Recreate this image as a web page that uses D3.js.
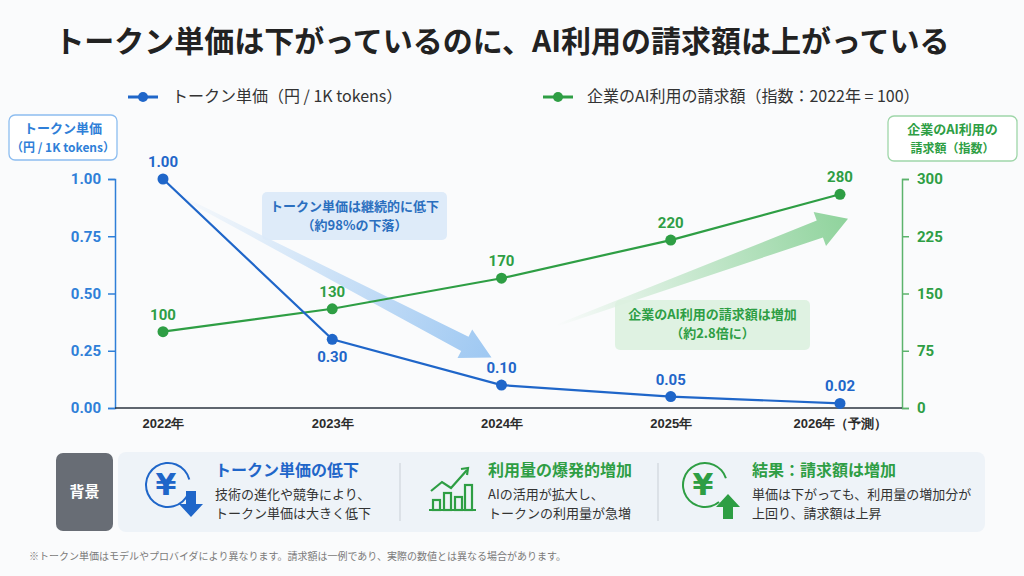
<!DOCTYPE html>
<html>
<head>
<meta charset="utf-8">
<script src="https://cdn.jsdelivr.net/npm/d3@7"></script>
<style>
  html, body { margin: 0; padding: 0; background: #fafbfc; }
  svg { display: block; font-family: "Noto Sans CJK JP", "Noto Sans", sans-serif; }
</style>
</head>
<body>
<div id="chart"></div>
<script>
// Token price falls, AI billing rises (dual axis line chart)

const years = ["2022年", "2023年", "2024年", "2025年", "2026年（予測）"];
const tokenPrice = [1.00, 0.30, 0.10, 0.05, 0.02];
const billingIndex = [100, 130, 170, 220, 280];
const leftTicks = [0, 0.25, 0.5, 0.75, 1];
const rightTicks = [0, 75, 150, 225, 300];

const WIDTH = 1024;
const HEIGHT = 576;
const BLUE = "#1f66c9";
const BLUE_TXT = "#2f7fd8";
const GREEN = "#2e9e44";
const DARK = "#222";

const svg = d3.select("#chart").append("svg")
  .attr("width", WIDTH)
  .attr("height", HEIGHT)
  .attr("viewBox", `0 0 ${WIDTH} ${HEIGHT}`);

svg.append("rect").attr("width", WIDTH).attr("height", HEIGHT).attr("fill", "#fafbfc");

const defs = svg.append("defs");

// Title
svg.append("text")
  .attr("x", 502).attr("y", 52)
  .attr("text-anchor", "middle")
  .attr("font-size", 30).attr("font-weight", 700)
  .attr("fill", DARK)
  .text("トークン単価は下がっているのに、AI利用の請求額は上がっている");

// Legend
function legendItem(x, color, label) {
  const g = svg.append("g").attr("transform", `translate(${x},97)`);
  g.append("line").attr("x1", 0).attr("x2", 30).attr("stroke", color).attr("stroke-width", 3);
  g.append("circle").attr("cx", 15).attr("r", 5).attr("fill", color);
  g.append("text").attr("x", 44).attr("y", 1).attr("dominant-baseline", "middle")
    .attr("font-size", 16).attr("fill", "#333").text(label);
}
legendItem(128, BLUE, "トークン単価（円 / 1K tokens）");
legendItem(543, GREEN, "企業のAI利用の請求額（指数：2022年 = 100）");

// Scales
const x = d3.scalePoint().domain(years).range([163, 840]);
const yL = d3.scaleLinear().domain([0, 1]).range([408, 179]);
const yR = d3.scaleLinear().domain([0, 300]).range([408, 179]);

// Axis title boxes
function axisBox(x0, y0, w, h, stroke, color, lines) {
  const g = svg.append("g");
  g.append("rect").attr("x", x0).attr("y", y0).attr("width", w).attr("height", h)
    .attr("rx", 6).attr("fill", "#fff").attr("stroke", stroke).attr("stroke-width", 1.3);
  lines.forEach((t, i) => {
    g.append("text").attr("x", x0 + w / 2).attr("y", y0 + 18 + i * 19)
      .attr("text-anchor", "middle").attr("font-size", i === 0 ? 13 : 12)
      .attr("font-weight", 700).attr("fill", color).text(t);
  });
}
axisBox(9, 115, 108, 45, "#8dbdf0", BLUE_TXT, ["トークン単価", "（円 / 1K tokens）"]);
axisBox(888, 116, 129, 45, "#9fd6a9", GREEN, ["企業のAI利用の", "請求額（指数）"]);

// Left axis
const axL = svg.append("g").attr("transform", "translate(115,0)")
  .call(d3.axisLeft(yL).tickValues(leftTicks).tickFormat(d3.format(".2f")).tickSize(7).tickPadding(7));
axL.selectAll("path, line").attr("stroke", BLUE_TXT).attr("stroke-width", 1.5);
axL.selectAll("text").attr("fill", BLUE_TXT).attr("font-size", 15).attr("font-weight", 700)
  .attr("font-family", "Roboto, 'Noto Sans', sans-serif");

// Right axis
const axR = svg.append("g").attr("transform", "translate(902,0)")
  .call(d3.axisRight(yR).tickValues(rightTicks).tickSize(7).tickPadding(8));
axR.selectAll("path, line").attr("stroke", "#5cb36c").attr("stroke-width", 1.5);
axR.selectAll("text").attr("fill", GREEN).attr("font-size", 15).attr("font-weight", 700)
  .attr("font-family", "Roboto, 'Noto Sans', sans-serif");

// X axis
svg.append("line").attr("x1", 115).attr("x2", 902).attr("y1", 408).attr("y2", 408)
  .attr("stroke", "#2b3440").attr("stroke-width", 1.5);
const axX = svg.append("g").attr("transform", "translate(0,408)")
  .call(d3.axisBottom(x).tickSize(0).tickPadding(11));
axX.select(".domain").remove();
axX.selectAll("text").attr("fill", "#2b2b2b").attr("font-size", 13).attr("font-weight", 700);

// Gradient arrows
function gradArrow(id, x0, y0, x1, y1, c, wTail, wBody, wHead, lHead) {
  const len = Math.hypot(x1 - x0, y1 - y0);
  const ang = Math.atan2(y1 - y0, x1 - x0) * 180 / Math.PI;
  const grad = defs.append("linearGradient").attr("id", id)
    .attr("x1", 0).attr("x2", 1).attr("y1", 0).attr("y2", 0);
  grad.append("stop").attr("offset", "0%").attr("stop-color", c).attr("stop-opacity", 0);
  grad.append("stop").attr("offset", "100%").attr("stop-color", c).attr("stop-opacity", 1);
  const b = len - lHead;
  const pts = [[0, -wTail / 2], [b, -wBody / 2], [b, -wHead / 2], [len, 0],
    [b, wHead / 2], [b, wBody / 2], [0, wTail / 2]];
  svg.append("path")
    .attr("d", d3.line()(pts) + "Z")
    .attr("fill", `url(#${id})`)
    .attr("transform", `translate(${x0},${y0}) rotate(${ang})`);
}
gradArrow("gBlue", x(years[0]) + 10, yL(0.94), x(years[2]) - 10, yL(0.22), "#9ec8f2", 2, 16, 32, 30);
gradArrow("gGreen", x(years[2]) + 55, yR(108), x(years[4]) + 8, yR(248), "#8fd39c", 2, 18, 36, 30);

// Annotation boxes
function noteBox(x0, y0, w, h, fill, color, lines) {
  const g = svg.append("g");
  g.append("rect").attr("x", x0).attr("y", y0).attr("width", w).attr("height", h)
    .attr("rx", 5).attr("fill", fill).attr("opacity", 0.92);
  lines.forEach((t, i) => {
    g.append("text").attr("x", x0 + w / 2).attr("y", y0 + 19 + i * 19)
      .attr("text-anchor", "middle").attr("font-size", 13).attr("font-weight", 700)
      .attr("fill", color).text(t);
  });
}
noteBox(262, 192, 185, 48, "#dbe9f8", "#2b6fbf", ["トークン単価は継続的に低下", "（約98%の下落）"]);
noteBox(615, 300, 195, 50, "#dcf1e0", GREEN, ["企業のAI利用の請求額は増加", "（約2.8倍に）"]);

// Lines
const lineL = d3.line().x((d, i) => x(years[i])).y(d => yL(d));
const lineR = d3.line().x((d, i) => x(years[i])).y(d => yR(d));

svg.append("path").datum(billingIndex).attr("d", lineR)
  .attr("fill", "none").attr("stroke", GREEN).attr("stroke-width", 2.2);
svg.append("path").datum(tokenPrice).attr("d", lineL)
  .attr("fill", "none").attr("stroke", BLUE).attr("stroke-width", 2.2);

svg.selectAll("circle.g").data(billingIndex).enter().append("circle")
  .attr("class", "g").attr("cx", (d, i) => x(years[i])).attr("cy", d => yR(d))
  .attr("r", 5.5).attr("fill", GREEN);
svg.selectAll("circle.b").data(tokenPrice).enter().append("circle")
  .attr("class", "b").attr("cx", (d, i) => x(years[i])).attr("cy", d => yL(d))
  .attr("r", 5.5).attr("fill", BLUE);

// Value labels
const labelFont = "Roboto, 'Noto Sans', sans-serif";
svg.selectAll("text.gl").data(billingIndex).enter().append("text")
  .attr("class", "gl").attr("x", (d, i) => x(years[i])).attr("y", d => yR(d) - 12)
  .attr("text-anchor", "middle").attr("font-size", 15).attr("font-weight", 700)
  .attr("font-family", labelFont).attr("fill", GREEN).text(d => d);
svg.selectAll("text.bl").data(tokenPrice).enter().append("text")
  .attr("class", "bl").attr("x", (d, i) => x(years[i]))
  .attr("y", (d, i) => i === 1 ? yL(d) + 23 : yL(d) - 12)
  .attr("text-anchor", "middle").attr("font-size", 15).attr("font-weight", 700)
  .attr("font-family", labelFont).attr("fill", BLUE).text(d => d.toFixed(2));

// Bottom background panel
svg.append("rect").attr("x", 56).attr("y", 453).attr("width", 57).attr("height", 78)
  .attr("rx", 7).attr("fill", "#686d75");
svg.append("text").attr("x", 84.5).attr("y", 497).attr("text-anchor", "middle")
  .attr("font-size", 15).attr("font-weight", 700).attr("fill", "#fff").text("背景");
svg.append("rect").attr("x", 118).attr("y", 452).attr("width", 867).attr("height", 80)
  .attr("rx", 8).attr("fill", "#eef3f8");

[400, 658].forEach(dx => {
  svg.append("line").attr("x1", dx).attr("x2", dx).attr("y1", 463).attr("y2", 521)
    .attr("stroke", "#c9cfd6").attr("stroke-width", 1);
});

function yenIcon(cx, cy, color, up) {
  const g = svg.append("g").attr("transform", `translate(${cx},${cy})`);
  const arc = d3.arc().innerRadius(21).outerRadius(23)
    .startAngle(up ? Math.PI * 0.78 : Math.PI * 0.62).endAngle(Math.PI * 2 + (up ? Math.PI * 0.4 : Math.PI * 0.42));
  g.append("path").attr("d", arc()).attr("fill", color);
  g.append("text").attr("x", -2).attr("y", 10).attr("text-anchor", "middle")
    .attr("font-size", 30).attr("font-weight", 700).attr("fill", color)
    .attr("font-family", "'DejaVu Sans', sans-serif").text("¥");
  const ax = 23, ay = 20;
  const pts = up
    ? [[ax - 5, ay + 14], [ax - 5, ay + 2], [ax - 12, ay + 2], [ax, ay - 11], [ax + 12, ay + 2], [ax + 5, ay + 2], [ax + 5, ay + 14]]
    : [[ax - 5, ay - 14], [ax - 5, ay - 1], [ax - 12, ay - 1], [ax, ay + 12], [ax + 12, ay - 1], [ax + 5, ay - 1], [ax + 5, ay - 14]];
  g.append("path").attr("d", d3.line()(pts) + "Z").attr("fill", color);
}
yenIcon(168, 485, "#1f66c9", false);
yenIcon(705, 485, GREEN, true);

// Bar chart icon
const bi = svg.append("g").attr("transform", "translate(430,480)").attr("fill", "none")
  .attr("stroke", GREEN).attr("stroke-width", 2.2);
[[3, 20], [14, 13], [25, 17], [35, 5]].forEach(([bx, by]) => {
  bi.append("rect").attr("x", bx).attr("y", by).attr("width", 7).attr("height", 30 - by);
});
bi.append("line").attr("x1", -1).attr("x2", 46).attr("y1", 30).attr("y2", 30);
bi.append("path").attr("d", "M1,11 L12,2 L21,8 L37,-10");
bi.append("path").attr("d", "M31,-11 L38,-12 L37,-5").attr("stroke-linejoin", "miter");

function section(x0, title, color, lines) {
  svg.append("text").attr("x", x0).attr("y", 476).attr("font-size", 16).attr("font-weight", 700)
    .attr("fill", color).text(title);
  lines.forEach((t, i) => {
    svg.append("text").attr("x", x0).attr("y", 499 + i * 19).attr("font-size", 13)
      .attr("fill", "#333").text(t);
  });
}
section(215, "トークン単価の低下", "#1f66c9", ["技術の進化や競争により、", "トークン単価は大きく低下"]);
section(488, "利用量の爆発的増加", GREEN, ["AIの活用が拡大し、", "トークンの利用量が急増"]);
section(752, "結果：請求額は増加", GREEN, ["単価は下がっても、利用量の増加分が", "上回り、請求額は上昇"]);

// Footnote
svg.append("text").attr("x", 29).attr("y", 560).attr("font-size", 10).attr("fill", "#7a7a7a")
  .text("※トークン単価はモデルやプロバイダにより異なります。請求額は一例であり、実際の数値とは異なる場合があります。");
</script>
</body>
</html>
